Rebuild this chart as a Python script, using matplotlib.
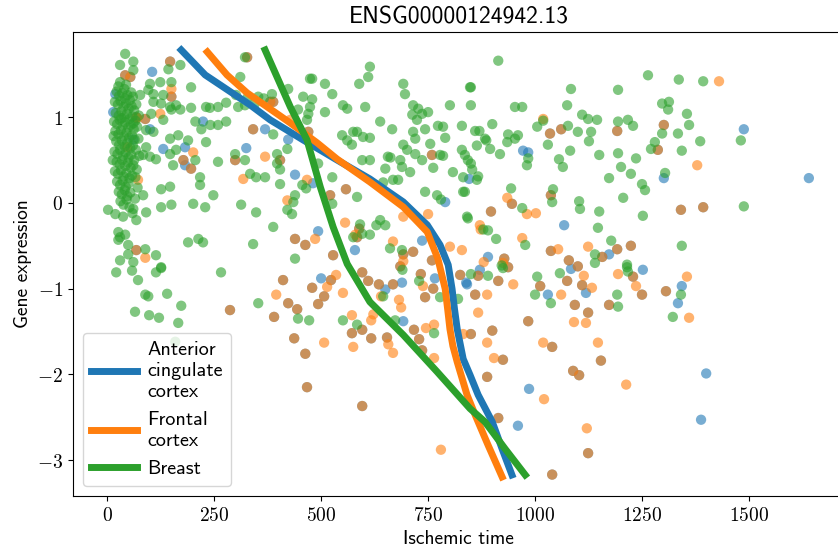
import matplotlib.pyplot as plt
import numpy as np
from matplotlib.ticker import FuncFormatter

title = "ENSG00000124942.13"
labels = ["Anterior\ncingulate\ncortex", "Frontal\ncortex", "Breast"]

# samples where both brain tissues sit on top of each other (show up brown)
shared_brain = [
    [147, 1.65], [42, 1.49], [54, 1.47], [150, 1.24], [327, 1.70], [381, 1.18], [89, 0.98], [68, 1.00],
    [341, 0.86], [178, 0.50], [196, 0.40], [299, 0.50], [68, -0.55],
    [388, 1.18], [470, 0.83], [404, 0.50], [558, 0.16], [521, 0.09], [759, 0.56], [439, -0.42], [463, -0.49],
    [589, -0.30], [584, -0.40], [715, -0.57], [692, -0.60], [528, -0.61], [759, -0.67],
    [1035, 0.81], [1061, 0.86], [1192, 0.84], [1301, 0.91], [1287, 0.62], [946, -0.01], [1037, 0.09],
    [897, -0.10], [1037, -0.56], [1192, -0.54], [1224, -0.50], [1157, -0.63], [1079, -0.67], [928, -0.65],
    [1341, -0.08], [1393, -0.05], [287, -1.25],
    [411, -0.90], [390, -1.33], [423, -1.17], [444, -1.24], [437, -1.58], [463, -1.76], [467, -2.15],
    [479, -0.99], [493, -1.18], [507, -1.09], [523, -0.90], [572, -1.52], [596, -1.48], [617, -1.58],
    [596, -2.37], [596, -0.81], [610, -0.91], [635, -0.95], [668, -0.95], [654, -1.57], [685, -0.74],
    [717, -1.48], [729, -1.59], [736, -1.72], [743, -1.10], [733, -0.83], [762, -1.00], [825, -0.84],
    [867, -0.85], [914, -0.91], [937, -0.75], [860, -1.07], [850, -1.53], [900, -1.49], [925, -1.83],
    [888, -2.03], [914, -2.51], [984, -1.38], [1012, -0.97], [1040, -1.68], [1040, -3.17], [1075, -0.91],
    [1100, -0.74], [1110, -0.96], [1093, -1.19], [1124, -1.28], [1089, -1.96], [1103, -2.01], [1154, -1.84],
    [1124, -2.92], [1173, -1.19], [1229, -0.86], [1250, -1.07], [1306, -1.03],
]

acc_only = [
    [105, 1.53], [19, 1.27], [224, 0.95], [100, 0.86], [369, 0.86], [182, 0.65], [131, 0.63], [182, 0.44],
    [325, 0.64], [14, 1.06], [61, 0.74],
    [423, 0.74], [439, 0.33], [481, 0.23], [790, 0.01], [493, -0.33], [579, -0.55], [736, -0.44],
    [972, 0.61], [984, 0.59], [846, 0.28], [1301, 0.29], [1068, -0.26], [890, -0.63], [1173, -0.60],
    [1488, 0.86], [1640, 0.29],
    [500, -0.88], [650, -1.01], [689, -0.93], [692, -1.38], [766, -0.88], [839, -0.93],
    [841, -0.95], [871, -0.78], [1030, -1.07], [986, -2.17], [960, -2.60], [1084, -0.77], [1119, -1.05],
    [1252, -0.78], [1343, -0.97], [1334, -1.17], [1400, -1.99], [1388, -2.53],
]

frontal_only = [
    [150, 1.33], [124, 1.04], [201, 0.59], [369, 0.54], [318, 0.28], [89, -0.64], [70, 0.99], [47, 0.65], [72, 0.27],
    [428, 0.97], [467, 0.27], [421, 0.03], [556, -0.23], [486, -0.42], [668, -0.45], [750, -0.13], [692, -0.16],
    [801, -0.51], [829, -0.55], [692, -0.68], [580, -0.37],
    [1019, 0.98], [935, 0.06], [981, -0.13], [1002, -0.12], [871, -0.26], [873, -0.31], [970, -0.41],
    [1054, -0.54], [1124, -0.51], [880, -0.69], [1430, 1.42], [1379, 0.44],
    [395, -1.07], [514, -0.98], [535, -0.84], [507, -1.63], [551, -1.05], [572, -1.31], [575, -1.68],
    [617, -1.37], [622, -1.30], [640, -1.09], [657, -1.65], [668, -1.75], [682, -1.13], [687, -1.22],
    [745, -1.46], [764, -1.42], [764, -1.81], [738, -0.97], [780, -2.88], [832, -1.53],
    [949, -0.95], [888, -1.07], [867, -1.28], [888, -1.63], [904, -1.81], [1019, -1.63], [1021, -2.29],
    [1061, -1.07], [1114, -0.85], [1133, -0.99], [1091, -1.39], [1119, -1.40], [1147, -1.63], [1121, -2.63],
    [1194, -0.83], [1236, -0.97], [1213, -2.12], [925, -0.70], [1355, -0.86], [1360, -1.34],
]

breast = [
    # dense block of short ischemic times
    [22, 1.30], [28, 1.25], [35, 1.28], [41, 1.22], [47, 1.26], [53, 1.20], [18, 1.18], [25, 1.15], [31, 1.19],
    [38, 1.12], [44, 1.16], [50, 1.10], [57, 1.13], [63, 1.08], [20, 1.05], [27, 1.02], [33, 1.07], [40, 1.00],
    [46, 1.04], [52, 0.98], [59, 1.01], [66, 0.96], [16, 0.95], [23, 0.92], [29, 0.97], [36, 0.90], [42, 0.94],
    [49, 0.88], [55, 0.91], [62, 0.86], [70, 0.89], [19, 0.84], [26, 0.80], [32, 0.85], [39, 0.78], [45, 0.82],
    [51, 0.76], [58, 0.79], [64, 0.74], [21, 0.72], [28, 0.68], [34, 0.73], [41, 0.66], [47, 0.70], [54, 0.64],
    [60, 0.67], [67, 0.62], [17, 0.60], [24, 0.57], [30, 0.62], [37, 0.55], [43, 0.59], [50, 0.53], [56, 0.56],
    [63, 0.50], [22, 0.48], [29, 0.45], [35, 0.50], [42, 0.43], [48, 0.47], [55, 0.41], [61, 0.44], [69, 0.39],
    [18, 0.37], [25, 0.34], [32, 0.38], [38, 0.31], [45, 0.35], [52, 0.29], [58, 0.32], [23, 0.25], [30, 0.21],
    [36, 0.26], [43, 0.19], [50, 0.23], [27, 0.13], [34, 0.10], [41, 0.15], [47, 0.08], [54, 0.12], [31, 0.02],
    [38, -0.02], [45, 0.04], [52, -0.05], [59, -0.12], [40, 1.33], [56, 1.29], [33, 0.99], [61, 0.93], [73, 0.75],
    [75, 0.55], [66, 0.30], [71, 0.18], [15, 0.78], [13, 0.50], [44, 1.38], [26, 1.36], [60, 1.24], [68, 1.15],
    [74, 1.02],
    # rest
    [42, 1.74], [30, 1.61], [61, 1.65], [61, 1.55], [171, 1.61], [143, 1.56], [30, 1.41], [100, 1.39], [124, 1.41],
    [150, 1.41], [131, 1.26], [108, 1.27], [96, 1.32], [77, 1.26], [196, 1.35], [322, 1.70], [311, 1.47],
    [108, 1.18], [126, 1.16], [147, 1.12], [161, 1.14], [171, 1.09], [150, 1.09], [196, 1.11], [231, 1.12],
    [240, 1.11], [259, 1.12], [278, 1.17], [306, 1.12], [301, 1.26], [329, 1.24], [353, 1.24], [366, 1.22],
    [322, 1.14], [345, 1.16], [103, 1.04], [131, 0.97], [206, 0.95], [220, 0.86], [241, 0.91], [259, 0.91],
    [278, 0.95], [108, 0.83], [91, 0.85], [147, 0.75], [166, 0.79], [189, 0.73], [231, 0.71], [161, 0.62],
    [147, 0.57], [206, 0.50], [259, 0.48], [299, 0.57], [322, 0.50], [91, 0.65], [114, 0.51], [100, 0.54],
    [84, 0.56], [154, 0.44], [217, 0.30], [217, 0.21], [334, 0.34], [348, 0.30], [369, 0.30], [126, 0.16],
    [147, 0.19], [84, 0.09], [65, 0.05], [248, 0.09], [2, -0.08], [19, -0.13], [37, -0.16], [61, -0.07],
    [68, -0.20], [91, -0.11], [126, -0.05], [150, -0.02], [201, -0.01], [229, -0.05], [313, -0.02], [348, -0.11],
    [26, -0.34], [30, -0.40], [42, -0.37], [26, -0.43], [189, -0.46], [213, -0.42], [224, -0.46], [341, -0.48],
    [49, -0.49], [89, -0.54], [49, -0.60], [114, -0.61], [30, -0.67], [61, -0.69], [126, -0.75],
    [614, 1.59], [610, 1.47], [474, 1.45], [479, 1.45], [509, 1.39], [526, 1.27], [589, 1.39], [692, 1.39],
    [696, 1.27], [848, 1.35], [423, 1.33], [458, 1.24], [479, 1.21], [385, 1.27], [446, 1.09], [474, 1.12],
    [470, 1.04], [467, 0.97], [509, 1.06], [551, 1.14], [561, 1.10], [603, 1.12], [715, 1.14], [727, 1.10],
    [736, 1.04], [750, 1.06], [713, 1.03], [724, 0.97], [801, 1.14], [638, 0.95], [666, 0.86], [575, 0.83],
    [584, 0.83], [743, 0.86], [773, 0.90], [785, 0.89], [829, 0.90], [388, 0.80], [549, 0.79], [561, 0.73],
    [598, 0.77], [614, 0.76], [715, 0.83], [720, 0.75], [692, 0.68], [701, 0.62], [755, 0.69], [790, 0.76],
    [572, 0.68], [421, 0.63], [397, 0.57], [397, 0.46], [404, 0.39], [493, 0.46], [596, 0.50], [614, 0.50],
    [656, 0.54], [662, 0.53], [685, 0.50], [689, 0.42], [708, 0.36], [720, 0.57], [736, 0.50], [762, 0.41],
    [778, 0.56], [785, 0.55], [829, 0.62], [836, 0.56], [808, 0.36], [832, 0.30], [404, 0.22], [526, 0.30],
    [650, 0.40], [680, 0.27], [668, 0.27], [645, 0.24], [456, 0.21], [465, 0.17], [439, 0.09], [435, 0.01],
    [584, 0.07], [743, 0.13], [771, 0.09], [780, 0.04], [832, 0.13], [841, -0.16], [421, -0.08], [432, -0.13],
    [388, -0.28], [526, -0.01], [638, -0.20], [650, -0.26], [629, -0.26], [591, -0.25], [596, -0.36],
    [614, -0.37], [575, -0.40], [661, -0.53], [439, -0.65], [689, -0.55],
    [914, 1.66], [1264, 1.49], [850, 1.35], [1084, 1.33], [1194, 1.32], [850, 1.14], [953, 1.12], [970, 1.12],
    [1075, 1.14], [1297, 1.16], [900, 0.92], [860, 0.84], [870, 0.84], [883, 0.75], [886, 0.73], [937, 0.80],
    [960, 0.79], [935, 0.71], [953, 0.75], [1005, 0.89], [1019, 0.96], [1077, 0.90], [1100, 0.83],
    [1110, 1.03], [1124, 0.98], [1145, 0.97], [1131, 0.83], [1126, 0.72], [1194, 0.95], [1217, 0.97],
    [1229, 0.90], [1297, 0.81], [1280, 0.71], [1271, 0.63], [864, 0.67], [895, 0.63], [918, 0.57], [984, 0.52],
    [981, 0.44], [1030, 0.68], [1056, 0.51], [1065, 0.42], [1082, 0.61], [1150, 0.56], [1194, 0.58],
    [1201, 0.42], [1236, 0.52], [1224, 0.34], [1173, 0.29], [1250, 0.22], [1257, 0.15], [843, 0.50],
    [850, 0.46], [853, 0.39], [867, 0.31], [864, 0.27], [836, 0.13], [944, 0.17], [1042, 0.16], [1040, 0.01],
    [1103, 0.02], [1105, -0.07], [1150, -0.10], [1206, 0.06], [1252, -0.15], [970, -0.06], [843, -0.18],
    [879, -0.31], [890, -0.32], [909, -0.42], [977, -0.49], [1147, -0.29], [1178, -0.44], [1140, -0.60],
    [1140, -0.70], [1215, -0.72], [922, -0.73],
    [1336, 1.44], [1393, 1.42], [1313, 1.18], [1311, 1.09], [1355, 1.04], [1360, 0.91], [1334, 0.81],
    [1386, 0.72], [1343, 0.61], [1481, 0.73], [1304, 0.35], [1488, -0.04], [1343, -0.50],
    [21, -0.81], [58, -0.79], [72, -0.90], [114, -0.81], [126, -0.76], [266, -0.81], [89, -1.07], [96, -1.09],
    [140, -1.06], [173, -1.20], [65, -1.27], [98, -1.31], [121, -1.34], [166, -1.40], [159, -1.62], [353, -1.17],
    [446, -1.35], [472, -1.37], [551, -1.37], [584, -1.42], [645, -1.09], [673, -1.37], [764, -1.52],
    [729, -0.91], [778, -1.10], [820, -1.12], [690, -0.78],
    [850, -0.83], [890, -0.85], [925, -0.76], [1005, -0.86], [1000, -1.07], [1037, -1.17], [1058, -0.82],
    [1192, -1.07], [1194, -1.21], [1215, -0.75], [1217, -0.80], [1341, -1.07], [1322, -1.33],
]

# fitted trend curves
acc_curve_x = [173, 229, 334, 381, 458, 537, 614, 692, 748, 778, 797, 806, 812, 818, 832, 848, 867, 900, 923, 946]
acc_curve_y = [1.785, 1.494, 1.144, 0.969, 0.735, 0.502, 0.280, 0.012, -0.257, -0.49, -0.723, -1.003,
               -1.25, -1.47, -1.82, -2.007, -2.24, -2.555, -2.87, -3.174]
frontal_curve_x = [234, 280, 327, 428, 491, 537, 614, 692, 748, 773, 790, 796, 801, 808, 818, 841, 860, 890, 923]
frontal_curve_y = [1.762, 1.494, 1.284, 0.933, 0.700, 0.513, 0.245, -0.047, -0.338, -0.653, -1.003,
                   -1.25, -1.47, -1.67, -1.855, -2.24, -2.474, -2.824, -3.197]
breast_curve_x = [369, 428, 467, 498, 528, 561, 614, 692, 771, 848, 883, 930, 977]
breast_curve_y = [1.785, 1.12, 0.735, 0.187, -0.28, -0.712, -1.155, -1.54, -1.97, -2.40, -2.555, -2.87, -3.174]

acc = np.array(shared_brain + acc_only)
frontal = np.array(shared_brain + frontal_only)
br = np.array(breast)

plt.rcParams['mathtext.fontset'] = 'cm'
sans = 'cmss10'

fig = plt.figure(figsize=(8.38, 5.48), dpi=100)
ax = fig.add_axes([0.0871, 0.0949, 0.920, 0.8467])

ax.scatter(acc[:, 0], acc[:, 1], s=55, color='C0', alpha=0.6, edgecolors='none')
ax.scatter(frontal[:, 0], frontal[:, 1], s=55, color='C1', alpha=0.6, edgecolors='none')
ax.scatter(br[:, 0], br[:, 1], s=55, color='C2', alpha=0.6, edgecolors='none')

ax.plot(acc_curve_x, acc_curve_y, color='C0', lw=5, label=labels[0])
ax.plot(frontal_curve_x, frontal_curve_y, color='C1', lw=5, label=labels[1])
ax.plot(breast_curve_x, breast_curve_y, color='C2', lw=5, label=labels[2])

ax.set_xlim(-80, 1722)
ax.set_ylim(-3.42, 1.995)
ax.set_xticks([0, 250, 500, 750, 1000, 1250, 1500])
ax.set_yticks([-3, -2, -1, 0, 1])
ax.xaxis.set_major_formatter(FuncFormatter(lambda v, p: f'${int(v)}$'))
ax.yaxis.set_major_formatter(FuncFormatter(lambda v, p: f'${int(v)}$'))
ax.tick_params(labelsize=14)

ax.set_title(title, fontfamily=sans, fontsize=17)
ax.set_xlabel("Ischemic time", fontfamily=sans, fontsize=14)
ax.set_ylabel("Gene expression", fontfamily=sans, fontsize=14)

ax.legend(loc='lower left', prop={'family': sans, 'size': 14.5}, handlelength=2.3, handletextpad=0.5)

fig.savefig('out.png', dpi=100)
